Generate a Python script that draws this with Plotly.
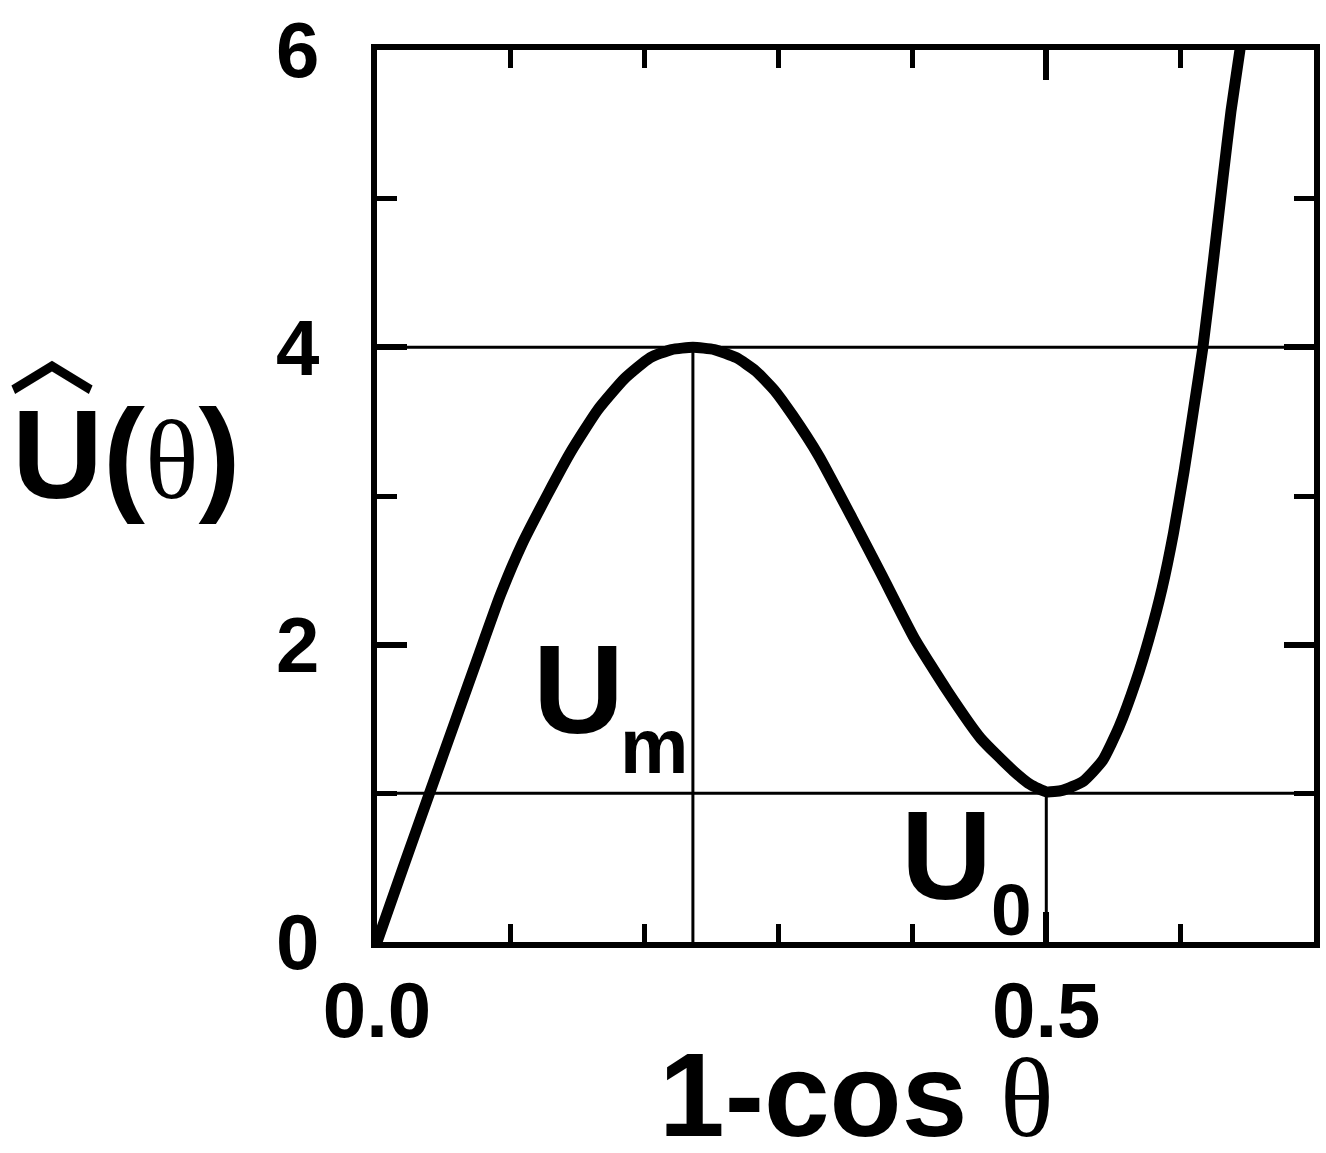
import plotly.graph_objects as go

# curve: x = 1-cos(theta), y = U-hat
curve_x = [0, 0.0195, 0.0392, 0.059, 0.076, 0.092, 0.108, 0.128, 0.145, 0.165, 0.185,
           0.204, 0.220, 0.236, 0.252, 0.2685, 0.283, 0.297, 0.3107, 0.330, 0.355,
           0.377, 0.4016, 0.426, 0.451, 0.4756, 0.488, 0.5, 0.512, 0.5274, 0.542,
           0.5545, 0.5668, 0.5767, 0.5865, 0.595, 0.603, 0.610, 0.617, 0.6248,
           0.632, 0.638, 0.6445, 0.6475]
curve_y = [0, 0.5, 1.0, 1.5, 1.93, 2.33, 2.67, 3.02, 3.30, 3.58, 3.79,
           3.93, 3.985, 4.0, 3.985, 3.93, 3.84, 3.71, 3.54, 3.27, 2.85,
           2.47, 2.04, 1.69, 1.37, 1.15, 1.06, 1.01, 1.02, 1.08, 1.22,
           1.45, 1.75, 2.04, 2.38, 2.75, 3.17, 3.58, 4.0, 4.58,
           5.14, 5.59, 5.99, 6.2]

# marked levels
x_max, u_max = 0.236, 4.0
x_min, u_min = 0.5, 1.0

x_range = [0, 0.7]
y_range = [0, 6]

W, H = 1326, 1153
L, R, T, B = 377, 6, 45, 211
PW, PH = W - L - R, H - T - B


def paper(xp, yp):
    # pixel position -> paper coords
    return (xp - L) / PW, (H - B - yp) / PH


fig = go.Figure()

fig.add_hline(y=u_max, line=dict(color="black", width=3))
fig.add_hline(y=u_min, line=dict(color="black", width=3))
fig.add_trace(go.Scatter(x=[x_max, x_max], y=[0, u_max], mode="lines",
                         line=dict(color="black", width=3), hoverinfo="skip"))
fig.add_trace(go.Scatter(x=[x_min, x_min], y=[0, u_min], mode="lines",
                         line=dict(color="black", width=3), hoverinfo="skip"))
fig.add_trace(go.Scatter(x=curve_x, y=curve_y, mode="lines",
                         line=dict(color="black", width=11, shape="spline", smoothing=0.5)))

bold = dict(family="Liberation Sans, Arial", color="black", weight="bold")


def label(text, xp, yp, size, family="Liberation Sans, Arial", weight="bold"):
    px, py = paper(xp, yp)
    fig.add_annotation(text=text, x=px, y=py, xref="paper", yref="paper",
                       showarrow=False, xanchor="center", yanchor="middle",
                       font=dict(family=family, size=size, color="black", weight=weight))


label("U", 580, 688, 126)
label("m", 656, 745, 77)
label("U", 950, 855, 126)
label("0", 1016, 909, 73)

# y title with a wide hat
label("︿", 50, 347, 86, family="Noto Sans CJK SC", weight="bold")
label("U(<span style='font-family:Liberation Serif;font-weight:normal;font-size:112px'>θ</span>)",
      125, 452, 126)
# x title
label("1-cos <span style='font-family:Liberation Serif;font-weight:normal;font-size:112px'>θ</span>",
      860, 1096, 118)

axis_common = dict(showline=True, linecolor="black", linewidth=6, mirror="ticks",
                   ticks="inside", tickcolor="black", tickwidth=6, ticklen=30,
                   showgrid=False, zeroline=False,
                   tickfont=dict(size=78, **bold))

fig.update_xaxes(range=x_range, dtick=0.5, tick0=0, tickformat=".1f",
                 ticklabelstandoff=-5,
                 minor=dict(dtick=0.1, ticks="inside", ticklen=18, tickwidth=5,
                            tickcolor="black", showgrid=False),
                 **axis_common)
fig.update_yaxes(range=y_range, dtick=2, tick0=0, ticklabelstandoff=36,
                 minor=dict(dtick=1, ticks="inside", ticklen=20, tickwidth=5,
                            tickcolor="black", showgrid=False),
                 **axis_common)

fig.update_layout(width=W, height=H, showlegend=False,
                  margin=dict(l=L, r=R, t=T, b=B),
                  plot_bgcolor="white", paper_bgcolor="white")

fig.write_html("out.html", config={"displayModeBar": False},
               post_script="document.body.style.margin='0px';")
